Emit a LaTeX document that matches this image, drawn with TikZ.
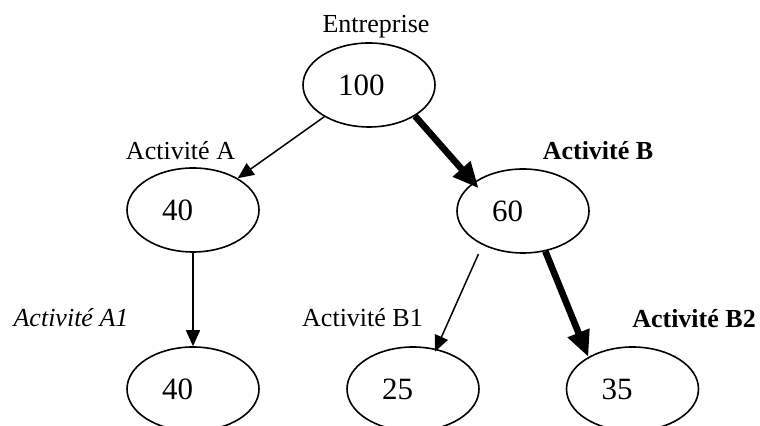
\documentclass[tikz,border=0pt]{standalone}
\usepackage{fontspec}
\setmainfont{Liberation Serif}
\usetikzlibrary{positioning,shapes.geometric,arrows.meta}

\begin{document}
\begin{tikzpicture}[on grid,
        main/.style = {ellipse, draw, line width=0.8pt, minimum width=66pt, minimum height=42pt, inner sep=0pt, text width=31pt, align=left, font=\fontsize{15.5}{18}\selectfont},
        lbl/.style = {inner sep=0pt, text height=9pt, text depth=3pt, font=\fontsize{13}{15}\selectfont},
        arr/.style = {->, >={Triangle[length=8pt,width=7pt]}, line width=0.75pt},
        bigarr/.style = {->, >={Triangle[length=13pt,width=11pt]}, line width=3.3pt}]
            \useasboundingbox (0,0) rectangle (380pt,-213pt);

            % Nodes
            \node[main] (1) at (184.5pt,-42.5pt) {100};
            \node[main] (2) [below left=62.5pt and 88pt of 1] {40};
            \node[main] (3) [below right=63pt and 77pt of 1] {60};
            \node[main] (4) [below=89.5pt of 2] {40};
            \node[main] (5) [below left=89pt and 55pt of 3] {25};
            \node[main] (6) [below right=89pt and 54.75pt of 3] {35};

            % Labels
            \node[lbl] (l1) [above right=29pt and 3.5pt of 1] {Entreprise};
            \node[lbl] (l2) [above left=28pt and 6.25pt of 2] {Activité A};
            \node[lbl] (l3) [above right=28.5pt and 37.5pt of 3] {\bfseries Activité B};
            \node[lbl] (l4) [above left=34pt and 61pt of 4] {\itshape Activité A1};
            \node[lbl] (l5) [above left=34pt and 25.25pt of 5] {Activité B1};
            \node[lbl] (l6) [above right=33.5pt and 30.75pt of 6] {\bfseries Activité B2};

            % Lines
            \draw[arr] (1) -- (2);
            \draw[bigarr, shorten >=-4pt] (1.-34) -- (3.150);
            \draw[arr] (2) -- (4);
            \draw[arr, shorten <=5pt, shorten >=-1.5pt] (3.220) -- (5.60);
            \draw[bigarr] (3.-61) -- (6.144);
        \end{tikzpicture}
\end{document}
